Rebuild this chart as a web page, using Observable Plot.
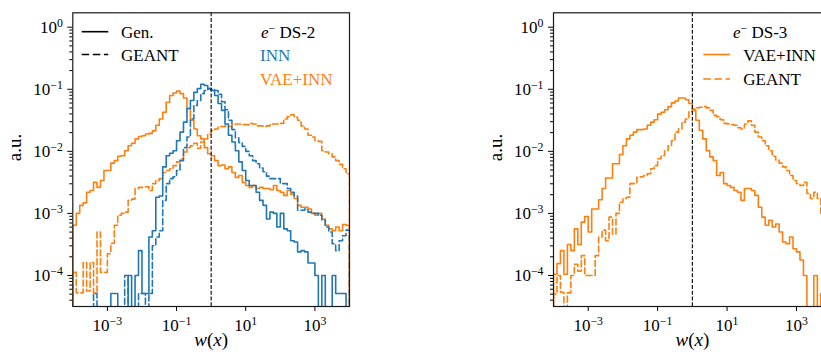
<!DOCTYPE html>
<html>
<head>
<meta charset="utf-8">
<script src="https://cdn.jsdelivr.net/npm/d3@7"></script>
<script src="https://cdn.jsdelivr.net/npm/@observablehq/plot@0.6"></script>
<style>
html, body { margin: 0; padding: 0; background: #fff; overflow: hidden; }
#wrap { position: relative; width: 821px; height: 356px; overflow: hidden; background: #fff; }
#wrap svg { position: absolute; top: 0; }
</style>
</head>
<body>
<div id="wrap"></div>
<script>
// ---- binning: 80 log-uniform bins of w(x) from 1e-4 to 1e4 ----
const logLo = -4, logHi = 4, nBins = 80;

// ---- bin contents, log10(a.u.), null = empty bin ----
// e- DS-2, INN generated (solid blue)
const ds2InnGen = [
  null,null,null,null,null,null,null,null,null,null,
  null,-4.29,-4.29,null,null,null,-4.0,null,-4.0,-3.6,
  -4.29,-4.29,-3.38,-3.28,-2.74,-2.72,-2.25,-2.07,-2.03,-1.99,
  -1.83,-1.69,-1.53,-1.31,-1.18,-1.05,-0.99,-0.92,-0.94,-0.99,
  -1.02,-1.10,-1.23,-1.34,-1.56,-1.74,-1.85,-1.99,-2.17,-2.31,
  -2.47,-2.55,-2.55,-2.66,-2.79,-2.87,-3.09,-2.98,-3.0,-3.22,
  -3.0,-3.25,-3.28,-3.44,-3.46,-3.62,-3.6,-3.62,-3.8,-3.8,
  -4.0,null,-4.0,null,null,-4.0,-4.29,-4.29,-4.29,null
];
// e- DS-2, INN reference GEANT (dashed blue)
const ds2InnGeant = [
  null,null,null,null,null,null,-4.29,null,null,null,
  null,null,null,null,null,-4.0,null,null,null,-4.29,
  -4.29,null,-4.29,-3.52,-3.38,-3.28,-2.79,-2.52,-2.44,-2.41,
  -2.31,-2.15,-1.94,-1.77,-1.48,-1.26,-1.18,-1.07,-1.02,-0.99,
  -1.0,-1.02,-1.08,-1.2,-1.33,-1.5,-1.65,-1.78,-1.86,-1.92,
  -2.0,-2.07,-2.15,-2.2,-2.27,-2.33,-2.4,-2.44,-2.44,-2.44,
  -2.52,-2.52,-2.6,-2.66,-2.72,-2.95,-2.95,-2.93,-2.98,-3.0,
  -3.0,-3.03,-3.11,-3.22,-3.3,-3.49,-3.6,-3.44,-3.36,-3.27
];
// e- DS-2, VAE+INN generated (solid orange)
const ds2VaeGen = [
  -3.19,-3.0,-2.87,-2.83,-2.66,-2.63,-2.5,-2.58,-2.47,-2.31,
  -2.31,-2.19,-2.15,-2.08,-2.07,-1.99,-1.91,-1.87,-1.8,-1.76,
  -1.75,-1.72,-1.71,-1.67,-1.58,-1.48,-1.37,-1.21,-1.1,-1.06,
  -1.03,-1.07,-1.14,-1.31,-1.5,-1.64,-1.75,-1.8,-1.94,-2.04,
  -2.07,-2.15,-2.23,-2.22,-2.28,-2.25,-2.34,-2.42,-2.39,-2.5,
  -2.55,-2.58,-2.55,-2.6,-2.58,-2.6,-2.6,-2.62,-2.55,-2.63,
  -2.66,-2.71,-2.63,-2.69,-2.76,-2.87,-2.9,-2.9,-2.93,-3.0,
  -3.03,-3.0,-3.09,-3.19,-3.25,-3.28,-3.22,-3.28,-3.18,-3.19
];
// e- DS-2, VAE+INN reference GEANT (dashed orange)
const ds2VaeGeant = [
  -3.95,-4.28,-4.28,-3.79,-4.25,-3.79,-4.28,-3.3,-3.95,-3.95,
  -3.65,-3.48,-3.19,-3.03,-3.0,-2.98,-2.79,-2.77,-2.6,-2.58,
  -2.58,-2.57,-2.63,-2.52,-2.47,-2.44,-2.34,-2.31,-2.28,-2.23,
  -2.17,-2.12,-2.01,-1.94,-1.91,-1.87,-1.95,-1.85,-1.8,-1.72,
  -1.66,-1.64,-1.6,-1.6,-1.59,-1.6,-1.57,-1.56,-1.56,-1.57,
  -1.57,-1.55,-1.56,-1.59,-1.59,-1.6,-1.59,-1.56,-1.56,-1.56,
  -1.55,-1.48,-1.44,-1.41,-1.45,-1.5,-1.59,-1.64,-1.74,-1.77,
  -1.83,-1.84,-1.99,-2.01,-2.04,-2.09,-2.15,-2.21,-2.28,-2.36
];
// e- DS-3, VAE+INN generated (solid orange)
const ds3VaeGen = [
  -3.98,-3.81,-3.6,-3.98,-3.5,-3.6,-3.25,-3.5,-3.14,-3.05,
  -3.3,-2.93,-2.93,-2.78,-2.6,-2.43,-2.43,-2.2,-2.2,-2.05,
  -1.91,-1.8,-1.74,-1.69,-1.65,-1.65,-1.64,-1.58,-1.53,-1.49,
  -1.4,-1.37,-1.33,-1.28,-1.22,-1.19,-1.14,-1.14,-1.17,-1.23,
  -1.34,-1.5,-1.66,-1.8,-1.99,-2.09,-2.15,-2.39,-2.34,-2.52,
  -2.55,-2.58,-2.63,-2.66,-2.79,-2.6,-2.6,-2.63,-2.71,-2.9,
  -3.06,-3.19,-3.11,-3.22,-3.17,-3.3,-3.46,-3.49,-3.38,-3.57,
  -3.62,-3.75,-4.0,null,null,-4.0,null,-4.29,null,null
];
// e- DS-3, GEANT (dashed orange)
const ds3VaeGeant = [
  -4.3,-4.0,-4.27,null,-4.28,-4.0,-3.82,-3.93,-3.68,-4.0,
  -4.0,-4.0,-3.68,-3.38,-3.27,-3.44,-3.06,-3.33,-3.0,-2.82,
  -2.76,-2.74,-2.52,-2.52,-2.42,-2.41,-2.39,-2.36,-2.28,-2.23,
  -2.12,-2.07,-1.99,-1.91,-1.83,-1.69,-1.64,-1.53,-1.48,-1.36,
  -1.32,-1.3,-1.29,-1.28,-1.3,-1.34,-1.42,-1.44,-1.49,-1.55,
  -1.56,-1.57,-1.58,-1.62,-1.64,-1.56,-1.51,-1.58,-1.69,-1.77,
  -1.83,-1.91,-1.99,-2.08,-2.14,-2.19,-2.25,-2.31,-2.39,-2.47,
  -2.52,-2.55,-2.5,-2.68,-2.76,-2.66,-2.76,-3.0,-3.0,-3.0
];

// ---- axes ----
const xTicks = [1e-3, 1e-1, 1e1, 1e3];
const yMajorTicks = [1e-4, 1e-3, 1e-2, 1e-1, 1e0];
const yMinorTicks = [4e-5,5e-5,6e-5,7e-5,8e-5,9e-5,
  2e-4,3e-4,4e-4,5e-4,6e-4,7e-4,8e-4,9e-4,
  2e-3,3e-3,4e-3,5e-3,6e-3,7e-3,8e-3,9e-3,
  2e-2,3e-2,4e-2,5e-2,6e-2,7e-2,8e-2,9e-2,
  0.2,0.3,0.4,0.5,0.6,0.7,0.8,0.9];
const xDomain = [1e-4, 1e4];
const yDomain = [Math.pow(10, -4.5), Math.pow(10, 0.232)];
const refLine = [1];

const BLUE = "#1f77b4", ORANGE = "#ff7f0e";
const DASH = "6,3";
const FONT = "'Liberation Serif', 'Times New Roman', serif";
const NS = "http://www.w3.org/2000/svg";

const edges = d3.range(nBins + 1).map(i => Math.pow(10, logLo + i * (logHi - logLo) / nBins));
const FLOOR = 1e-9; // empty bins drop below the frame
function stepData(logs) {
  const pts = logs.map((v, i) => ({x: edges[i], y: v == null ? FLOOR : Math.pow(10, v)}));
  pts.unshift({x: edges[0], y: FLOOR});
  pts.push({x: edges[nBins], y: pts[pts.length - 1].y});
  pts.push({x: edges[nBins], y: FLOOR});
  return pts;
}
function hist(logs, color, dashed) {
  return Plot.line(stepData(logs), {
    x: "x", y: "y", curve: "step-after", stroke: color, strokeWidth: 1.6,
    strokeDasharray: dashed ? DASH : null, clip: true
  });
}
const expFmt = d => "10^" + Math.round(Math.log10(d));

function panel(width, marginLeft, marginRight, series) {
  return Plot.plot({
    width, height: 356,
    marginLeft, marginRight, marginTop: 12.3, marginBottom: 50,
    style: {fontFamily: FONT, fontSize: "17px", color: "black", background: "transparent", overflow: "visible"},
    x: {type: "log", domain: xDomain, label: null},
    y: {type: "log", domain: yDomain, label: null},
    marks: [
      Plot.axisX({ticks: xTicks, tickSize: 5, tickPadding: 7, tickFormat: expFmt, label: null}),
      Plot.axisY({ticks: yMajorTicks, tickSize: 5, tickPadding: 5, tickFormat: expFmt, label: null}),
      Plot.axisY({ticks: yMinorTicks, tickSize: 3, tickFormat: () => "", label: null}),
      ...series,
      Plot.ruleX(refLine, {stroke: "black", strokeWidth: 1.1, strokeDasharray: "4,1.8"}),
      Plot.frame({stroke: "#1a1a1a", strokeWidth: 1.2}),
      Plot.text(["a.u."], {frameAnchor: "left", dx: -58, dy: 1.5, rotate: -90, fontSize: 19}),
      Plot.text(["w(x)"], {frameAnchor: "bottom", dy: 39, fontSize: 19})
    ]
  });
}

function tsp(parent, txt, attrs) {
  const t = document.createElementNS(NS, "tspan");
  t.textContent = txt;
  for (const k in attrs) t.setAttribute(k, attrs[k]);
  parent.appendChild(t);
  return t;
}
function polish(svg) {
  svg.querySelectorAll("text").forEach(t => {
    const s = t.textContent;
    const m = s.match(/^10\^(-?\d+)$/);
    if (m) {
      t.textContent = "";
      tsp(t, "10", {});
      tsp(t, m[1].replace("-", "\u2212"), {"font-size": "11.8px", dy: "-5.5"});
    } else if (s === "w(x)") {
      t.textContent = "";
      tsp(t, "w", {"font-style": "italic"});
      tsp(t, "(", {});
      tsp(t, "x", {"font-style": "italic"});
      tsp(t, ")", {});
    }
  });
}
function addText(g, x, y, parts, color) {
  const t = g.append("text").attr("x", x).attr("y", y).attr("text-anchor", "start")
    .attr("fill", color).attr("font-family", FONT).attr("font-size", "17px");
  parts.forEach(p => {
    const s = t.append("tspan").text(p.t);
    if (p.italic) s.attr("font-style", "italic");
    if (p.sup) s.attr("font-size", "11.8px").attr("dy", -6);
    if (p.down) s.attr("dy", 6);
  });
}
function legendLine(g, x1, x2, y, color, dashed) {
  g.append("line").attr("x1", x1).attr("x2", x2).attr("y1", y).attr("y2", y)
    .attr("stroke", color).attr("stroke-width", 1.6)
    .attr("stroke-dasharray", dashed ? "7.5,3.6" : null);
}

const wrap = document.getElementById("wrap");

// ---- left panel: e- DS-2 ----
const left = panel(400, 72.3, 51, [
  hist(ds2VaeGen, ORANGE, false),
  hist(ds2VaeGeant, ORANGE, true),
  hist(ds2InnGeant, BLUE, true),
  hist(ds2InnGen, BLUE, false)
]);
polish(left);
{
  const g = d3.select(left).append("g");
  legendLine(g, 81.7, 108.3, 31.7, "black", false);
  addText(g, 121, 37.5, [{t: "Gen."}], "black");
  legendLine(g, 81.7, 108.3, 54.5, "black", true);
  addText(g, 121, 61, [{t: "GEANT"}], "black");
  addText(g, 261, 37.5, [{t: "e", italic: true}, {t: "\u2212", sup: true}, {t: " DS-2", down: true}], "black");
  addText(g, 260, 61, [{t: "INN"}], BLUE);
  addText(g, 260, 84.5, [{t: "VAE+INN"}], ORANGE);
}
left.style.left = "0px";
wrap.appendChild(left);

// ---- right panel: e- DS-3 ----
const RX = 460;
const right = panel(380, 93, 9.3, [
  hist(ds3VaeGeant, ORANGE, true),
  hist(ds3VaeGen, ORANGE, false)
]);
polish(right);
{
  const g = d3.select(right).append("g");
  addText(g, 733 - RX, 37.5, [{t: "e", italic: true}, {t: "\u2212", sup: true}, {t: " DS-3", down: true}], "black");
  legendLine(g, 703.3 - RX, 730 - RX, 54.5, ORANGE, false);
  addText(g, 743.3 - RX, 61, [{t: "VAE+INN"}], "black");
  legendLine(g, 703.3 - RX, 730 - RX, 79, ORANGE, true);
  addText(g, 743.3 - RX, 85, [{t: "GEANT"}], "black");
}
right.style.left = RX + "px";
wrap.appendChild(right);
</script>
</body>
</html>
